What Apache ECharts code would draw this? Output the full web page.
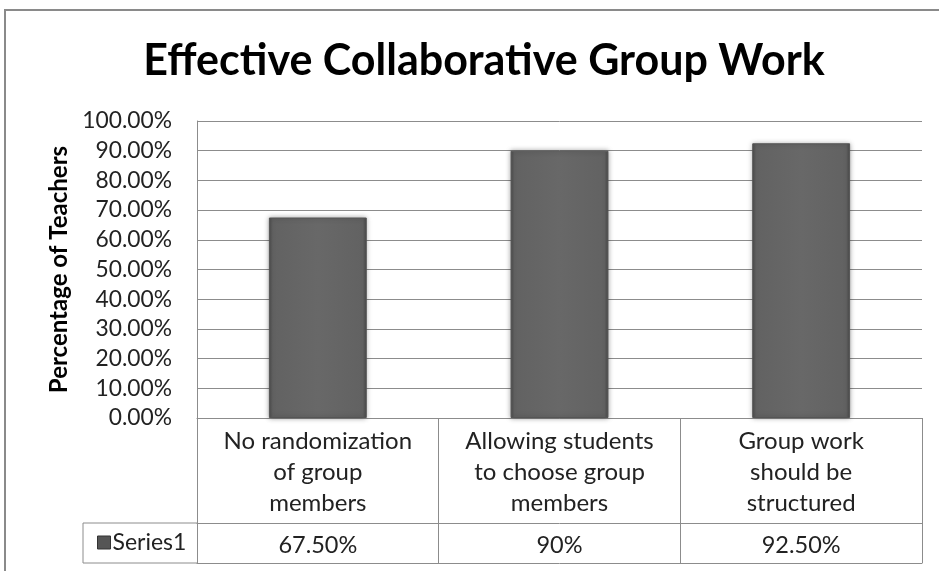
<!DOCTYPE html>
<html>
<head>
<meta charset="utf-8">
<script src="https://cdn.jsdelivr.net/npm/echarts@6/dist/echarts.min.js"></script>
<style>html,body{margin:0;padding:0;background:#fff}#c{width:939px;height:571px}</style>
</head>
<body>
<div id="c"></div>
<script>
const categories = ['No randomization\nof group\nmembers', 'Allowing students\nto choose group\nmembers', 'Group work\nshould be\nstructured'];
const series1 = [67.5, 90, 92.5];
const valueLabels = ['67.50%', '90%', '92.50%'];
const seriesName = 'Series1';
const titleText = 'Effective Collaborative Group Work';
const yAxisTitle = 'Percentage of Teachers';

const FONT = 'Lato, "Open Sans", sans-serif';
const LINE = '#8c8c8c';
const chart = echarts.init(document.getElementById('c'), null, {renderer: 'canvas'});
chart.setOption({
  animation: false,
  backgroundColor: '#fff',
  textStyle: {fontFamily: FONT},
  title: {
    text: titleText, left: 479, top: 35, textAlign: 'center',
    textStyle: {fontFamily: FONT, fontSize: 43, fontWeight: 'bold', color: '#000'}
  },
  legend: {
    data: [seriesName], left: 92, top: 526, itemWidth: 13, itemHeight: 13, icon: 'rect', itemGap: 4,
    itemStyle: {color: '#555', borderColor: '#333', borderWidth: 1},
    textStyle: {fontFamily: FONT, fontSize: 23, color: '#222', padding: [0, 0, 0, -3]}
  },
  grid: {left: 197, right: 17, top: 121, bottom: 153, containLabel: false},
  xAxis: [
    {
      type: 'category', data: categories, position: 'bottom',
      axisLine: {show: true, lineStyle: {color: LINE, width: 1}},
      axisTick: {show: true, length: 145, lineStyle: {color: LINE, width: 1}},
      axisLabel: {fontFamily: FONT, fontSize: 24, color: '#222', lineHeight: 31, margin: 8, interval: 0}
    },
    {
      type: 'category', data: categories, position: 'bottom', offset: 105,
      axisLine: {show: true, lineStyle: {color: LINE, width: 1}},
      axisTick: {show: false},
      axisLabel: {fontFamily: FONT, fontSize: 23.5, color: '#222', margin: 10, interval: 0,
        formatter: (v, i) => valueLabels[i]}
    },
    {
      type: 'category', data: categories, position: 'bottom', offset: 145,
      axisLine: {show: true, lineStyle: {color: LINE, width: 1}},
      axisTick: {show: false}, axisLabel: {show: false}
    }
  ],
  yAxis: {
    type: 'value', min: 0, max: 100, interval: 10,
    name: yAxisTitle, nameLocation: 'middle', nameGap: 124,
    nameTextStyle: {fontFamily: FONT, fontSize: 24, fontWeight: 'bold', color: '#000'},
    axisLine: {show: true, lineStyle: {color: LINE, width: 1}},
    axisTick: {show: false},
    splitLine: {show: true, lineStyle: {color: LINE, width: 1}},
    axisLabel: {fontFamily: FONT, fontSize: 22.8, color: '#222', margin: 25,
      formatter: v => v.toFixed(2) + '%'}
  },
  graphic: [
    {type: 'rect', shape: {x: 5, y: 10, width: 1000, height: 700}, style: {fill: 'none', stroke: '#8a8a8a', lineWidth: 2}, silent: true},
    {type: 'line', shape: {x1: 83, y1: 523, x2: 197, y2: 523}, style: {stroke: LINE, lineWidth: 1}},
    {type: 'line', shape: {x1: 83, y1: 563, x2: 197, y2: 563}, style: {stroke: LINE, lineWidth: 1}},
    {type: 'line', shape: {x1: 83, y1: 523, x2: 83, y2: 563}, style: {stroke: LINE, lineWidth: 1}}
  ],
  series: [{
    name: seriesName, type: 'bar', data: series1, barWidth: '40.5%', xAxisIndex: 0,
    itemStyle: {
      color: {type: 'linear', x: 0, y: 0, x2: 1, y2: 0, colorStops: [
        {offset: 0, color: '#4e4e4e'}, {offset: 0.04, color: '#626262'},
        {offset: 0.5, color: '#686868'}, {offset: 0.96, color: '#626262'}, {offset: 1, color: '#4a4a4a'}]},
      borderColor: '#555', borderWidth: 1,
      shadowBlur: 5, shadowColor: 'rgba(0,0,0,0.35)'
    }
  }]
});
</script>
</body>
</html>
